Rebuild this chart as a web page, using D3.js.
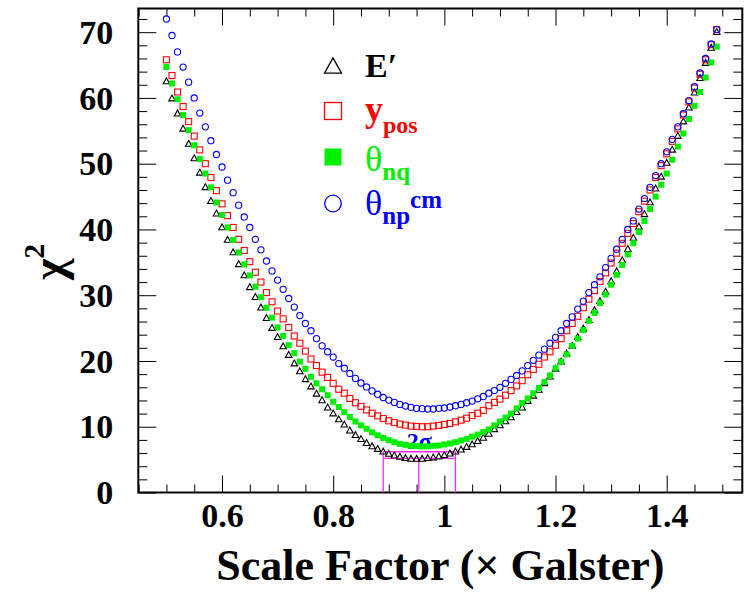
<!DOCTYPE html>
<html><head><meta charset="utf-8">
<script src="https://cdn.jsdelivr.net/npm/d3@7"></script>
<style>body{margin:0;background:#fff} svg{display:block} svg text{font-family:"Liberation Serif","DejaVu Serif","Times New Roman",Times,serif;}</style>
</head><body>
<svg id="c" width="747" height="593"></svg>
<script>
// ---- data ----
const scaleFactor = [0.50,0.51,0.52,0.53,0.54,0.55,0.56,0.57,0.58,0.59,0.60,0.61,0.62,0.63,0.64,0.65,0.66,0.67,0.68,0.69,0.70,0.71,0.72,0.73,0.74,0.75,0.76,0.77,0.78,0.79,0.80,0.81,0.82,0.83,0.84,0.85,0.86,0.87,0.88,0.89,0.90,0.91,0.92,0.93,0.94,0.95,0.96,0.97,0.98,0.99,1.00,1.01,1.02,1.03,1.04,1.05,1.06,1.07,1.08,1.09,1.10,1.11,1.12,1.13,1.14,1.15,1.16,1.17,1.18,1.19,1.20,1.21,1.22,1.23,1.24,1.25,1.26,1.27,1.28,1.29,1.30,1.31,1.32,1.33,1.34,1.35,1.36,1.37,1.38,1.39,1.40,1.41,1.42,1.43,1.44,1.45,1.46,1.47,1.48,1.49];
const chi2Eprime = [62.6,60.0,57.7,55.4,53.1,50.9,48.7,46.5,44.4,42.5,40.4,38.5,36.6,34.8,33.1,31.3,29.8,28.2,26.6,25.1,23.7,22.3,21.0,19.7,18.5,17.3,16.2,15.1,14.1,13.0,12.1,11.2,10.4,9.5,8.8,8.2,7.6,7.1,6.7,6.3,5.95,5.7,5.5,5.3,5.2,5.2,5.2,5.3,5.4,5.55,5.75,6.0,6.3,6.6,7.0,7.4,7.9,8.4,9.0,9.7,10.3,10.9,11.5,12.3,13.0,14.0,14.8,15.7,16.7,17.7,18.9,20.0,21.2,22.4,23.7,25.0,26.3,27.8,29.2,30.6,32.2,33.7,35.4,37.1,38.8,40.5,42.4,44.2,46.3,48.1,50.2,52.2,54.3,56.5,58.6,60.9,63.1,65.4,67.7,70.1];
const chi2Ypos = [65.8,63.4,60.9,58.7,56.4,54.2,52.1,50.0,47.9,45.9,43.9,42.1,40.3,38.5,36.8,35.1,33.5,32.0,30.4,29.0,27.6,26.4,25.1,23.8,22.7,21.5,20.3,19.3,18.3,17.5,16.6,15.7,15.1,14.3,13.65,13.1,12.55,12.05,11.65,11.25,10.9,10.65,10.4,10.25,10.1,10.05,10.0,10.0,10.1,10.2,10.35,10.5,10.75,11.0,11.3,11.7,12.05,12.5,13.2,13.7,14.2,14.8,15.5,16.2,17.0,17.9,18.7,19.5,20.6,21.4,22.4,23.4,24.6,25.7,26.8,28.1,29.4,30.7,32.1,33.4,34.9,36.4,37.9,39.4,40.9,42.7,44.3,46.0,47.9,49.7,51.5,53.4,55.3,57.4,59.4,61.5,63.6,65.8,68.1,70.4];
const chi2ThetaNq = [64.7,62.2,59.8,57.4,55.1,52.8,50.7,48.5,46.4,44.1,42.2,40.3,38.4,36.5,34.7,33.0,31.3,29.7,28.1,26.6,25.1,23.8,22.4,21.2,19.9,18.8,17.6,16.6,15.7,14.8,13.8,13.0,12.2,11.5,10.8,10.2,9.7,9.15,8.7,8.3,7.95,7.65,7.4,7.25,7.1,7.05,7.0,7.0,7.1,7.15,7.3,7.45,7.65,7.9,8.15,8.5,8.8,9.2,9.6,10.2,10.8,11.4,12.0,12.8,13.6,14.3,15.1,15.9,16.8,17.8,18.9,19.9,21.0,22.3,23.4,24.7,26.1,27.3,28.8,30.1,31.6,33.1,34.6,36.2,37.9,39.6,41.3,43.1,45.0,46.8,48.5,50.6,52.6,54.6,56.8,58.8,60.9,63.1,65.4,67.8];
const chi2ThetaNpCm = [72.0,69.5,67.0,64.7,62.4,60.0,57.7,55.6,53.5,51.4,49.5,47.5,45.6,43.7,41.9,40.3,38.5,36.9,35.2,33.7,32.3,30.9,29.5,28.2,26.9,25.7,24.6,23.4,22.3,21.4,20.6,19.6,18.9,18.1,17.35,16.65,16.05,15.45,14.95,14.45,14.05,13.7,13.4,13.15,12.95,12.8,12.75,12.7,12.7,12.8,12.85,13.0,13.2,13.4,13.65,13.9,14.25,14.6,15.1,15.5,16.0,16.6,17.2,17.8,18.5,19.3,20.1,20.9,21.8,22.7,23.6,24.6,25.7,26.7,27.9,29.1,30.4,31.6,32.8,34.2,35.6,37.0,38.5,40.0,41.3,43.1,44.7,46.4,48.2,50.0,51.8,53.7,55.6,57.6,59.6,61.7,63.8,66.0,68.2,70.4];
const xTickValues = [0.6,0.8,1.0,1.2,1.4];
const xMinorValues = [0.45,0.5,0.55,0.65,0.7,0.75,0.85,0.9,0.95,1.05,1.1,1.15,1.25,1.3,1.35,1.45,1.5];
const yTickValues = [0,10,20,30,40,50,60,70];
const yMinorValues = [2,4,6,8,12,14,16,18,22,24,26,28,32,34,36,38,42,44,46,48,52,54,56,58,62,64,66,68,72];
const twoSigmaX = [0.89, 0.954, 1.02];      // lower, best, upper
const twoSigmaChi2 = [5.2, 6.2];            // minimum, minimum+1

// ---- layout ----
const L = 138.3, R = 742.3, T = 8.5, B = 492.5;
const FONT = "Liberation Serif, DejaVu Serif, Times New Roman, serif";
const svg = d3.select("#c");
const x = d3.scaleLinear().domain([0.4494, 1.536]).range([L, R]);
const y = d3.scaleLinear().domain([0, 73.6]).range([B, T]);

function styleAxis(g){
  g.attr("font-family", null).attr("font-size", null);
  g.select(".domain").remove();
  g.selectAll(".tick line").attr("stroke","#000").attr("stroke-width",1);
}
// bottom
svg.append("g").attr("transform",`translate(0,${B})`)
  .call(d3.axisBottom(x).tickValues(xMinorValues).tickSizeInner(-8).tickSizeOuter(0).tickFormat(""))
  .call(styleAxis);
const gx = svg.append("g").attr("transform",`translate(0,${B})`)
  .call(d3.axisBottom(x).tickValues(xTickValues).tickSizeInner(-17).tickSizeOuter(0).tickPadding(10).tickFormat(d=>String(d)))
  .call(styleAxis);
gx.selectAll("text").attr("font-weight","bold").attr("font-size",34).attr("fill","#000");
// top
svg.append("g").attr("transform",`translate(0,${T})`)
  .call(d3.axisTop(x).tickValues(xMinorValues).tickSizeInner(-8).tickSizeOuter(0).tickFormat(""))
  .call(styleAxis);
svg.append("g").attr("transform",`translate(0,${T})`)
  .call(d3.axisTop(x).tickValues(xTickValues).tickSizeInner(-17).tickSizeOuter(0).tickFormat(""))
  .call(styleAxis);
// left
svg.append("g").attr("transform",`translate(${L},0)`)
  .call(d3.axisLeft(y).tickValues(yMinorValues).tickSizeInner(-9).tickSizeOuter(0).tickFormat(""))
  .call(styleAxis);
const gy = svg.append("g").attr("transform",`translate(${L},0)`)
  .call(d3.axisLeft(y).tickValues(yTickValues).tickSizeInner(-18).tickSizeOuter(0).tickPadding(25).tickFormat(d=>String(d)))
  .call(styleAxis);
gy.selectAll("text").attr("font-weight","bold").attr("font-size",34).attr("fill","#000").attr("dy","0.33em");
// right
svg.append("g").attr("transform",`translate(${R},0)`)
  .call(d3.axisRight(y).tickValues(yMinorValues).tickSizeInner(-9).tickSizeOuter(0).tickFormat(""))
  .call(styleAxis);
svg.append("g").attr("transform",`translate(${R},0)`)
  .call(d3.axisRight(y).tickValues(yTickValues).tickSizeInner(-18).tickSizeOuter(0).tickFormat(""))
  .call(styleAxis);

// frame
svg.append("rect").attr("x",L).attr("y",T).attr("width",R-L).attr("height",B-T)
  .attr("fill","none").attr("stroke","#000").attr("stroke-width",2);

// axis titles
svg.append("text").attr("x",(L+R)/2).attr("y",580).attr("text-anchor","middle")
  .attr("font-weight","bold").attr("font-size",44)
  .text("Scale Factor (\u00d7 Galster)");
const yt = svg.append("text").attr("transform","translate(64,280) rotate(-90)")
  .attr("font-weight","bold");
yt.append("tspan").attr("font-size",46).text("\u03c7");
yt.append("tspan").attr("font-size",30).attr("dy",-20).text("2");

// 2 sigma label and lines
svg.append("text").attr("x",x(0.955)).attr("y",449).attr("text-anchor","middle")
  .attr("font-weight","bold").attr("font-size",24).attr("fill","#0000ff")
  .text("2\u03c3");
const mg = svg.append("g").attr("stroke","#ff22ff").attr("stroke-width",1.3).attr("fill","none");
mg.append("line").attr("x1",x(twoSigmaX[0])).attr("x2",x(twoSigmaX[0])).attr("y1",y(0)).attr("y2",y(twoSigmaChi2[1]));
mg.append("line").attr("x1",x(twoSigmaX[2])).attr("x2",x(twoSigmaX[2])).attr("y1",y(0)).attr("y2",y(twoSigmaChi2[1]));
mg.append("line").attr("x1",x(twoSigmaX[1])).attr("x2",x(twoSigmaX[1])).attr("y1",y(0)).attr("y2",y(twoSigmaChi2[0]));
mg.append("line").attr("x1",x(twoSigmaX[0])).attr("x2",x(twoSigmaX[2])).attr("y1",y(twoSigmaChi2[0])).attr("y2",y(twoSigmaChi2[0]));
mg.append("line").attr("x1",x(twoSigmaX[0])).attr("x2",x(twoSigmaX[2])).attr("y1",y(twoSigmaChi2[1])).attr("y2",y(twoSigmaChi2[1]));

// markers
function triPath(cx, cy, s){
  const h = s*0.9;
  return `M${cx},${cy-h/2}L${cx+s/2},${cy+h/2}L${cx-s/2},${cy+h/2}Z`;
}
const zipped = arr => scaleFactor.map((sf,i)=>({sf, v:arr[i]}));
svg.append("g").selectAll("path").data(zipped(chi2Eprime)).join("path")
  .attr("d",d=>triPath(x(d.sf),y(d.v),6.5)).attr("fill","none").attr("stroke","#000").attr("stroke-width",1.1);
svg.append("g").selectAll("rect").data(zipped(chi2Ypos)).join("rect")
  .attr("x",d=>x(d.sf)-3).attr("y",d=>y(d.v)-3).attr("width",6).attr("height",6)
  .attr("fill","none").attr("stroke","#ff0000").attr("stroke-width",1.1);
svg.append("g").selectAll("rect").data(zipped(chi2ThetaNq)).join("rect")
  .attr("x",d=>x(d.sf)-3).attr("y",d=>y(d.v)-3).attr("width",6).attr("height",6)
  .attr("fill","#00ee00");
svg.append("g").selectAll("circle").data(zipped(chi2ThetaNpCm)).join("circle")
  .attr("cx",d=>x(d.sf)).attr("cy",d=>y(d.v)).attr("r",3.1)
  .attr("fill","none").attr("stroke","#0000ff").attr("stroke-width",1.1);

// legend
const lg = svg.append("g");
const mx = 333, tx = 365;
lg.append("path").attr("d",triPath(mx,65.5,17)).attr("fill","none").attr("stroke","#000").attr("stroke-width",1.3);
lg.append("rect").attr("x",mx-8.5).attr("y",102.5).attr("width",17).attr("height",17).attr("fill","none").attr("stroke","#ff0000").attr("stroke-width",1.3);
lg.append("rect").attr("x",mx-8.5).attr("y",148.5).attr("width",17).attr("height",17).attr("fill","#00ee00");
lg.append("circle").attr("cx",mx).attr("cy",203.5).attr("r",8.3).attr("fill","none").attr("stroke","#0000ff").attr("stroke-width",1.3);

lg.append("text").attr("x",tx).attr("y",77).attr("font-weight","bold").attr("font-size",34).attr("fill","#000").text("E\u2032");
const t2 = lg.append("text").attr("x",tx).attr("y",121).attr("font-weight","bold").attr("fill","#ff0000");
t2.append("tspan").attr("font-size",36).text("y");
t2.append("tspan").attr("font-size",24).attr("dy",12).text("pos");
const t3 = lg.append("text").attr("x",tx).attr("y",171).attr("fill","#00ee00");
t3.append("tspan").attr("font-size",36).text("\u03b8");
t3.append("tspan").attr("font-size",25).attr("font-weight","bold").attr("dy",9).text("nq");
const t4 = lg.append("text").attr("x",tx).attr("y",215).attr("fill","#0000ff");
t4.append("tspan").attr("font-size",36).text("\u03b8");
t4.append("tspan").attr("font-size",25).attr("font-weight","bold").attr("dy",9).text("np");
t4.append("tspan").attr("font-size",25).attr("font-weight","bold").attr("dy",-16).text("cm");
</script>
</body></html>
